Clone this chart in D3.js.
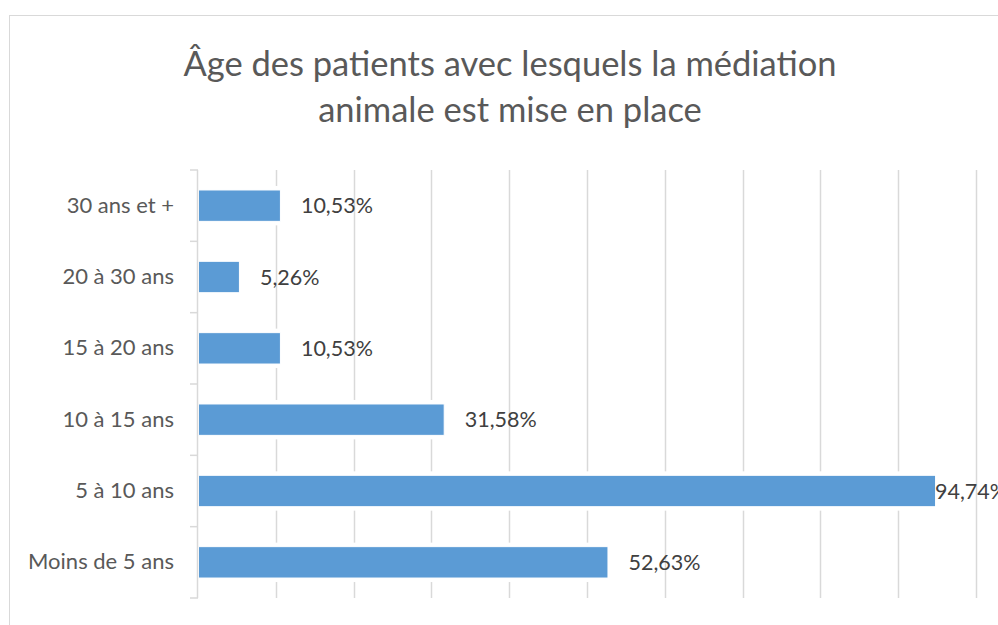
<!DOCTYPE html>
<html><head><meta charset="utf-8">
<script src="https://cdn.jsdelivr.net/npm/d3@7"></script>
<style>
html,body{margin:0;padding:0;background:#fff;}
svg{display:block;}
</style></head>
<body>
<svg id="chart" width="998" height="625"></svg>
<script>
const titleLines = ["Âge des patients avec lesquels la médiation", "animale est mise en place"];
const categories = ["30 ans et +", "20 à 30 ans", "15 à 20 ans", "10 à 15 ans", "5 à 10 ans", "Moins de 5 ans"];
const values = [10.53, 5.26, 10.53, 31.58, 94.74, 52.63];
const valueLabels = ["10,53%", "5,26%", "10,53%", "31,58%", "94,74%", "52,63%"];
const xTicks = [0, 10, 20, 30, 40, 50, 60, 70, 80, 90, 100];

const svg = d3.select("#chart");
const font = "Lato, 'Liberation Sans', sans-serif";
const chartRight = 1007;

// chart border
svg.append("rect").attr("x", 9.5).attr("y", 15.5).attr("width", 1010).attr("height", 700)
  .attr("fill", "#fff").attr("stroke", "#d9d9d9").attr("stroke-width", 1);

// title
svg.append("g").selectAll("text").data(titleLines).join("text")
  .attr("x", 510).attr("y", (d, i) => 76 + i * 46)
  .attr("text-anchor", "middle")
  .attr("font-family", font).attr("font-size", 34.5).attr("fill", "#595959")
  .text(d => d);

const x = d3.scaleLinear().domain([0, 100]).range([198, 976]);
const y = d3.scaleBand().domain(categories).range([170, 598]).paddingInner(0.56).paddingOuter(0.28);

// gridlines
svg.append("g").selectAll("line").data(xTicks.slice(1)).join("line")
  .attr("x1", d => Math.round(x(d)) + 0.5).attr("x2", d => Math.round(x(d)) + 0.5)
  .attr("y1", 170).attr("y2", 598)
  .attr("stroke", "#d9d9d9").attr("stroke-width", 1.5);

const rows = categories.map((c, i) => ({c, v: values[i], label: valueLabels[i]}));

// white halo behind bars
svg.append("g").selectAll("rect").data(rows).join("rect")
  .attr("x", x(0)).attr("y", d => y(d.c) - 4)
  .attr("width", d => x(d.v) - x(0) + 3).attr("height", y.bandwidth() + 8)
  .attr("fill", "#fff");

// bars
svg.append("g").selectAll("rect").data(rows).join("rect")
  .attr("x", x(0) + 0.5).attr("y", d => y(d.c))
  .attr("width", d => x(d.v) - x(0)).attr("height", y.bandwidth())
  .attr("fill", "#5b9bd5").attr("stroke", "#fff").attr("stroke-width", 1);

// category axis
const yAxis = d3.axisLeft(y).tickSize(0).tickPadding(24);
const ag = svg.append("g").attr("transform", `translate(${x(0)},0)`).call(yAxis);
ag.select(".domain").remove();
ag.selectAll("text").attr("font-family", font).attr("font-size", 22).attr("fill", "#595959");
const boundaries = d3.range(categories.length + 1).map(i => 170 + i * y.step());
const axisG = svg.append("g");
axisG.append("line").attr("x1", x(0) - 0.5).attr("x2", x(0) - 0.5).attr("y1", 170).attr("y2", 598)
  .attr("stroke", "#d9d9d9").attr("stroke-width", 1.5);
axisG.selectAll(".tk").data(boundaries).join("line").attr("class", "tk")
  .attr("x1", x(0) - 8).attr("x2", x(0)).attr("y1", d => d).attr("y2", d => d)
  .attr("stroke", "#d9d9d9").attr("stroke-width", 1.5);

// value labels
svg.append("g").selectAll("text").data(rows).join("text")
  .attr("font-family", font).attr("font-size", 21.5).attr("fill", "#404040")
  .attr("y", d => y(d.c) + y.bandwidth() / 2 + 7.5)
  .text(d => d.label)
  .attr("x", function(d) {
    const w = this.getComputedTextLength();
    return Math.min(x(d.v) + 21, chartRight - w);
  });
</script>
</body></html>
